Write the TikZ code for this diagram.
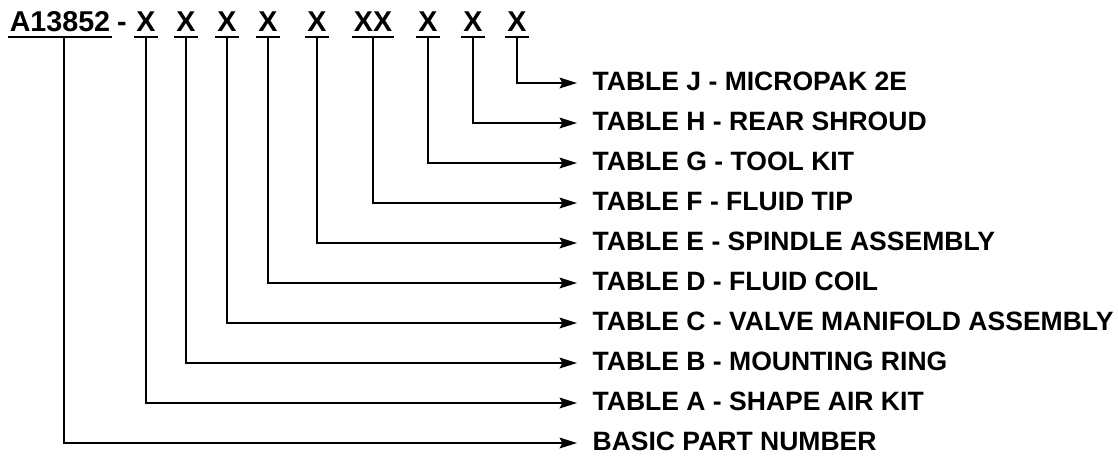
\documentclass[tikz,border=0pt]{standalone}
\usepackage{fontspec}
\setmainfont{Liberation Sans}
\usetikzlibrary{arrows.meta}

\begin{document}
\begin{tikzpicture}[
    x=0.75pt, y=-0.75pt,
    code/.style={font=\fontsize{21.5}{22}\selectfont\bfseries, inner xsep=1.5pt, inner ysep=0pt, text depth=4pt, anchor=base},
    tablelabel/.style={font=\fontsize{19.9}{21}\selectfont\bfseries, inner xsep=11.5pt, inner ysep=0pt, text depth=3pt, anchor=west},
    rule/.style={line width=1.5pt},
    arrow/.style={line width=1.5pt, -{Stealth[length=13pt, width=8pt, inset=2pt]}}
]
    \useasboundingbox (0,0) rectangle (1118,455);

    % part number code
    \node[code] (base) at (60, 31.5) {A13852};
    \node[code, inner xsep=0pt] (dash) at (122, 31.5) {-};
    \node[code] (xA) at (146, 31.5) {X};
    \node[code] (xB) at (186, 31.5) {X};
    \node[code] (xC) at (227, 31.5) {X};
    \node[code] (xD) at (268, 31.5) {X};
    \node[code] (xE) at (317, 31.5) {X};
    \node[code] (xF) at (373, 31.5) {XX};
    \node[code] (xG) at (428, 31.5) {X};
    \node[code] (xH) at (473, 31.5) {X};
    \node[code] (xJ) at (517, 31.5) {X};

    \foreach \n in {base, xA, xB, xC, xD, xE, xF, xG, xH, xJ}
        \draw[rule] (\n.south west) -- (\n.south east);

    % tables
    \node[tablelabel] (tJ) at (577, 83) {TABLE J - MICROPAK 2E};
    \node[tablelabel] (tH) at (577, 123) {TABLE H - REAR SHROUD};
    \node[tablelabel] (tG) at (577, 163) {TABLE G - TOOL KIT};
    \node[tablelabel] (tF) at (577, 203) {TABLE F - FLUID TIP};
    \node[tablelabel] (tE) at (577, 243) {TABLE E - SPINDLE ASSEMBLY};
    \node[tablelabel] (tD) at (577, 283) {TABLE D - FLUID COIL};
    \node[tablelabel] (tC) at (577, 323) {TABLE C - VALVE MANIFOLD ASSEMBLY};
    \node[tablelabel] (tB) at (577, 363) {TABLE B - MOUNTING RING};
    \node[tablelabel] (tA) at (577, 403) {TABLE A - SHAPE AIR KIT};
    \node[tablelabel] (tBase) at (577, 443) {BASIC PART NUMBER};

    \draw[arrow] (xJ.south) |- (tJ.west);
    \draw[arrow] (xH.south) |- (tH.west);
    \draw[arrow] (xG.south) |- (tG.west);
    \draw[arrow] (xF.south) |- (tF.west);
    \draw[arrow] (xE.south) |- (tE.west);
    \draw[arrow] (xD.south) |- (tD.west);
    \draw[arrow] (xC.south) |- (tC.west);
    \draw[arrow] (xB.south) |- (tB.west);
    \draw[arrow] (xA.south) |- (tA.west);
    \draw[arrow] ([xshift=3pt]base.south) |- (tBase.west);
\end{tikzpicture}
\end{document}
